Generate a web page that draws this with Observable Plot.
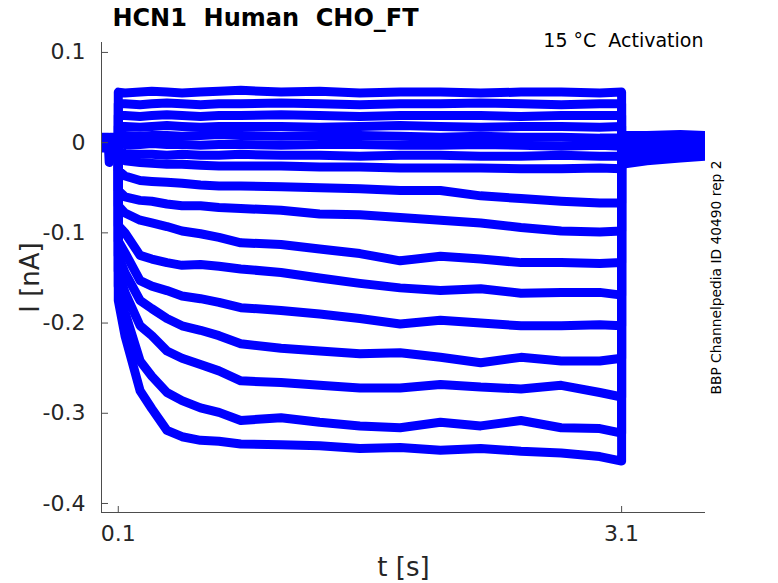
<!DOCTYPE html>
<html>
<head>
<meta charset="utf-8">
<script src="https://cdn.jsdelivr.net/npm/d3@7"></script>
<script src="https://cdn.jsdelivr.net/npm/@observablehq/plot@0.6"></script>
<style>
  html, body { margin: 0; padding: 0; background: #fff; }
</style>
</head>
<body>
<div id="chart"></div>
<script>
// ---- time grid (s): pre-step holding, activation step, tail ----
const tHold = [0, 0.04, 0.046, 0.052, 0.1];
const tStep = [0.1, 0.14, 0.23, 0.3, 0.39, 0.48, 0.59, 0.7, 0.83, 1.07, 1.3, 1.54, 1.78, 2.02, 2.26, 2.5, 2.74, 2.97, 3.1];
const tTail = [3.1, 3.25, 3.45, 3.6];
const timeGrid = [...tHold, ...tStep, ...tTail];

// ---- current traces (nA) ----
const sweep01 = [0.006, 0.006, 0.005, 0.006, 0.006,
  0.056, 0.055, 0.056, 0.057, 0.056, 0.055, 0.056, 0.057, 0.058, 0.056, 0.057, 0.055, 0.056, 0.056, 0.055, 0.056, 0.056, 0.055, 0.056,
  0.008, 0.008, 0.009, 0.008];
const sweep02 = [0.005, 0.004, 0.005, 0.004, 0.005,
  0.043, 0.043, 0.042, 0.043, 0.044, 0.043, 0.042, 0.043, 0.043, 0.044, 0.043, 0.042, 0.043, 0.043, 0.044, 0.043, 0.042, 0.043, 0.043,
  0.006, 0.006, 0.007, 0.006];
const sweep03 = [0.003, 0.004, 0.003, 0.003, 0.004,
  0.030, 0.030, 0.029, 0.030, 0.031, 0.030, 0.029, 0.030, 0.030, 0.031, 0.030, 0.029, 0.030, 0.030, 0.030, 0.029, 0.030, 0.030, 0.030,
  0.005, 0.004, 0.005, 0.004];
const sweep04 = [0.002, 0.002, 0.001, 0.002, 0.002,
  0.018, 0.018, 0.017, 0.018, 0.019, 0.018, 0.017, 0.018, 0.018, 0.018, 0.017, 0.018, 0.019, 0.018, 0.017, 0.018, 0.018, 0.017, 0.018,
  0.003, 0.003, 0.003, 0.002];
const sweep05 = [0.001, 0.001, 0.000, 0.001, 0.001,
  0.008, 0.008, 0.007, 0.008, 0.008, 0.007, 0.008, 0.009, 0.008, 0.007, 0.008, 0.008, 0.007, 0.006, 0.007, 0.006, 0.006, 0.005, 0.005,
  0.001, 0.001, 0.002, 0.001];
const sweep06 = [0.000, -0.001, 0.000, 0.000, 0.000,
  -0.001, -0.002, -0.002, -0.001, -0.002, -0.002, -0.003, -0.002, -0.002, -0.003, -0.002, -0.002, -0.003, -0.003, -0.002, -0.003, -0.004, -0.003, -0.004,
  -0.001, -0.001, 0.000, -0.001];
const sweep07 = [-0.001, -0.002, -0.001, -0.001, -0.002,
  -0.010, -0.012, -0.013, -0.013, -0.014, -0.013, -0.014, -0.014, -0.013, -0.014, -0.014, -0.015, -0.014, -0.014, -0.015, -0.015, -0.014, -0.015, -0.015,
  -0.004, -0.003, -0.002, -0.002];
const sweep08 = [-0.003, -0.003, -0.002, -0.003, -0.003,
  -0.018, -0.020, -0.022, -0.023, -0.024, -0.024, -0.025, -0.026, -0.026, -0.026, -0.027, -0.027, -0.028, -0.028, -0.028, -0.029, -0.029, -0.028, -0.029,
  -0.006, -0.005, -0.004, -0.003];
const sweep09 = [-0.004, -0.004, -0.005, -0.004, -0.004,
  -0.031, -0.037, -0.042, -0.043, -0.044, -0.045, -0.047, -0.048, -0.048, -0.049, -0.050, -0.051, -0.053, -0.053, -0.059, -0.062, -0.065, -0.067, -0.067,
  -0.008, -0.007, -0.006, -0.005];
const sweep10 = [-0.005, -0.005, -0.004, -0.005, -0.005,
  -0.053, -0.060, -0.064, -0.065, -0.068, -0.070, -0.070, -0.072, -0.073, -0.075, -0.079, -0.080, -0.083, -0.086, -0.089, -0.094, -0.098, -0.099, -0.098,
  -0.011, -0.009, -0.008, -0.007];
const sweep11 = [-0.006, -0.006, -0.006, -0.006, -0.006,
  -0.070, -0.078, -0.086, -0.089, -0.093, -0.098, -0.101, -0.105, -0.111, -0.113, -0.118, -0.123, -0.131, -0.126, -0.129, -0.133, -0.133, -0.134, -0.133,
  -0.013, -0.011, -0.010, -0.009];
const sweep12 = [-0.004, -0.004, -0.003, -0.004, -0.004,
  -0.092, -0.100, -0.125, -0.129, -0.133, -0.136, -0.135, -0.137, -0.140, -0.144, -0.150, -0.156, -0.161, -0.164, -0.162, -0.167, -0.166, -0.166, -0.169,
  -0.015, -0.013, -0.011, -0.010];
const sweep13 = [-0.002, -0.002, -0.002, -0.002, -0.002,
  -0.109, -0.122, -0.153, -0.159, -0.164, -0.170, -0.173, -0.177, -0.183, -0.186, -0.190, -0.195, -0.201, -0.197, -0.200, -0.203, -0.203, -0.202, -0.203,
  -0.017, -0.014, -0.012, -0.011];
const sweep14 = [0.002, 0.002, 0.003, 0.002, 0.002,
  -0.125, -0.144, -0.175, -0.184, -0.195, -0.203, -0.208, -0.214, -0.223, -0.228, -0.231, -0.234, -0.233, -0.238, -0.244, -0.238, -0.242, -0.242, -0.239,
  -0.019, -0.016, -0.014, -0.012];
const sweep15 = [0.004, 0.004, 0.004, 0.005, 0.004,
  -0.142, -0.166, -0.203, -0.214, -0.231, -0.239, -0.246, -0.253, -0.264, -0.266, -0.269, -0.272, -0.272, -0.268, -0.271, -0.273, -0.269, -0.277, -0.282,
  -0.021, -0.017, -0.015, -0.013];
const sweep16 = [-0.001, -0.001, -0.002, -0.001, -0.001,
  -0.159, -0.188, -0.242, -0.259, -0.277, -0.286, -0.294, -0.299, -0.308, -0.305, -0.310, -0.314, -0.316, -0.310, -0.314, -0.308, -0.316, -0.317, -0.322,
  -0.022, -0.018, -0.016, -0.014];
const sweep17 = [0.001, 0.000, -0.022, 0.000, 0.001,
  -0.175, -0.214, -0.275, -0.295, -0.319, -0.326, -0.330, -0.331, -0.334, -0.335, -0.336, -0.339, -0.338, -0.341, -0.339, -0.342, -0.344, -0.348, -0.353,
  -0.024, -0.020, -0.017, -0.015];

const sweeps = [sweep01, sweep02, sweep03, sweep04, sweep05, sweep06, sweep07, sweep08, sweep09,
                sweep10, sweep11, sweep12, sweep13, sweep14, sweep15, sweep16, sweep17];

// ---- axes & labels ----
const xTicks = [0.1, 3.1];
const yTicks = [0.1, 0, -0.1, -0.2, -0.3, -0.4];
const titleText = "HCN1\u00a0\u00a0Human\u00a0\u00a0CHO_FT";
const conditionText = "15 \u00b0C\u00a0\u00a0Activation";
const sideText = "BBP Channelpedia ID 40490 rep 2";
const xLabel = "t [s]";
const yLabel = "I [nA]";

const rows = sweeps.flatMap((vals, k) => vals.map((v, i) => ({sweep: k, t: timeGrid[i], v})));
const fmt = d => (d === 0 ? "0" : String(d));
const axisColor = "#4d4d4d";
const tickColor = "#262626";

const chart = Plot.plot({
  width: 778,
  height: 583,
  marginLeft: 101,
  marginRight: 73,
  marginTop: 42,
  marginBottom: 71,
  x: {domain: [0, 3.6]},
  y: {domain: [-0.41, 0.111]},
  style: {fontFamily: "DejaVu Sans", background: "#fff", color: tickColor, overflow: "visible"},
  marks: [
    Plot.line(rows, {x: "t", y: "v", z: "sweep", stroke: "#0000ff", strokeWidth: 9, strokeLinejoin: "round", clip: true}),
    Plot.ruleX([0], {stroke: axisColor}),
    Plot.ruleY([-0.41], {stroke: axisColor}),
    Plot.tickX(xTicks, {x: d => d, insetTop: 464, stroke: axisColor}),
    Plot.tickY(yTicks, {y: d => d, insetRight: 597, stroke: axisColor}),
    Plot.axisX({ticks: xTicks, tickSize: 0, tickPadding: 13, fontSize: 22, label: null, tickFormat: fmt, fill: tickColor}),
    Plot.axisY({ticks: yTicks, tickSize: 0, tickPadding: 16, fontSize: 22, label: null, tickFormat: fmt, fill: tickColor}),
    Plot.text([titleText], {frameAnchor: "top-left", dx: 164, dy: -24.5, text: d => d, textAnchor: "middle", lineAnchor: "middle", fontSize: 24, fontWeight: "bold", fill: "#000"}),
    Plot.text([conditionText], {frameAnchor: "top-right", dx: -2, dy: -1.7, text: d => d, textAnchor: "end", lineAnchor: "middle", fontSize: 19, fill: "#000"}),
    Plot.text([xLabel], {frameAnchor: "bottom", dy: 55, text: d => d, textAnchor: "middle", lineAnchor: "middle", fontSize: 26, fill: tickColor}),
    Plot.text([yLabel], {frameAnchor: "left", dx: -71, text: d => d, rotate: -90, textAnchor: "middle", lineAnchor: "middle", fontSize: 26, fill: tickColor}),
    Plot.text([sideText], {frameAnchor: "right", dx: 11, text: d => d, rotate: -90, textAnchor: "middle", lineAnchor: "middle", fontSize: 13.8, fill: "#000"})
  ]
});
document.getElementById("chart").appendChild(chart);
</script>
</body>
</html>
